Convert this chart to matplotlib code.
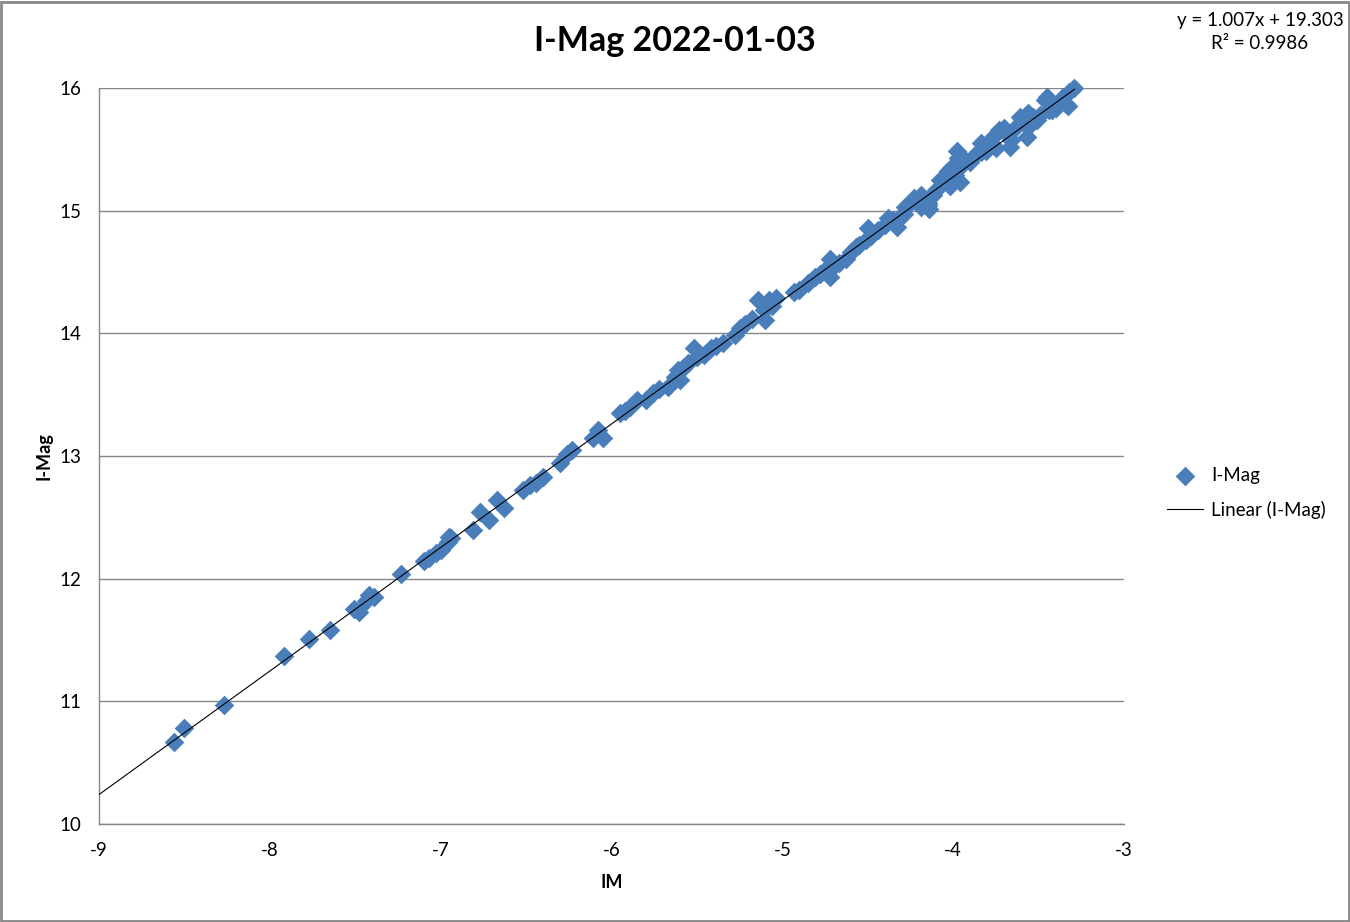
import numpy as np
import matplotlib.pyplot as plt
from matplotlib.patches import Rectangle

# Data (IM vs I-Mag)
im = [
    -8.56, -8.50, -8.27, -7.92, -7.77, -7.65, -7.51, -7.48, -7.44, -7.42,
    -7.39, -7.23, -7.10, -7.07, -7.03, -7.00, -6.96, -6.95, -6.94, -6.81,
    -6.77, -6.72, -6.67, -6.63, -6.52, -6.48, -6.44, -6.40, -6.30, -6.26,
    -6.23, -6.11, -6.08, -6.05, -5.95, -5.92, -5.89, -5.85, -5.80, -5.76,
    -5.72, -5.67, -5.63, -5.61, -5.60, -5.58, -5.55, -5.52, -5.50, -5.46,
    -5.42, -5.39, -5.35, -5.28, -5.25, -5.22, -5.18, -5.14, -5.11, -5.10,
    -5.08, -5.06, -5.04, -4.93, -4.90, -4.85, -4.81, -4.78, -4.75, -4.72,
    -4.72, -4.71, -4.67, -4.63, -4.60, -4.57, -4.55, -4.51, -4.50, -4.48,
    -4.44, -4.40, -4.38, -4.35, -4.33, -4.32, -4.29, -4.28, -4.25, -4.23,
    -4.19, -4.16, -4.15, -4.12, -4.10, -4.08, -4.05, -4.03, -4.01, -3.99,
    -3.97, -3.96, -3.95, -3.93, -3.90, -3.87, -3.84, -3.81, -3.78, -3.77,
    -3.75, -3.73, -3.70, -3.68, -3.66, -3.64, -3.61, -3.59, -3.56, -3.55,
    -3.53, -3.51, -3.49, -3.46, -3.45, -3.44, -3.40, -3.39, -3.36, -3.34,
    -3.32, -3.29, -3.57, -3.67, -3.42, -3.33, -4.19, -4.14, -4.02, -3.98,
    -3.84, -4.15,
]
imag = [
    10.67, 10.78, 10.97, 11.37, 11.51, 11.58, 11.75, 11.73, 11.82, 11.87,
    11.85, 12.04, 12.14, 12.17, 12.21, 12.23, 12.30, 12.34, 12.33, 12.40,
    12.54, 12.48, 12.64, 12.58, 12.72, 12.76, 12.78, 12.83, 12.94, 13.02,
    13.05, 13.15, 13.21, 13.15, 13.35, 13.37, 13.40, 13.46, 13.46, 13.51,
    13.55, 13.56, 13.64, 13.70, 13.62, 13.72, 13.76, 13.88, 13.81, 13.82,
    13.88, 13.90, 13.92, 13.99, 14.04, 14.08, 14.12, 14.27, 14.19, 14.11,
    14.27, 14.22, 14.29, 14.34, 14.35, 14.41, 14.46, 14.48, 14.52, 14.61,
    14.46, 14.53, 14.57, 14.61, 14.66, 14.70, 14.72, 14.76, 14.86, 14.79,
    14.84, 14.88, 14.94, 14.92, 14.87, 14.94, 14.97, 15.03, 15.06, 15.10,
    15.13, 15.09, 15.05, 15.13, 15.17, 15.25, 15.27, 15.32, 15.35, 15.29,
    15.43, 15.23, 15.37, 15.41, 15.40, 15.45, 15.48, 15.49, 15.54, 15.59,
    15.51, 15.66, 15.67, 15.62, 15.58, 15.67, 15.76, 15.72, 15.80, 15.70,
    15.76, 15.74, 15.78, 15.90, 15.93, 15.82, 15.84, 15.87, 15.93, 15.87,
    15.97, 16.00, 15.60, 15.52, 15.82, 15.85, 15.03, 15.01, 15.20, 15.49,
    15.55, 15.06,
]

# trendline shown on the chart
slope = 1.007
intercept = 19.303
r_squared = 0.9986

x_ticks = [-9, -8, -7, -6, -5, -4, -3]
y_ticks = [10, 11, 12, 13, 14, 15, 16]

blue = '#4a7ebb'
grid_grey = '#868686'

plt.rcParams['font.family'] = ['Lato', 'DejaVu Sans']
plt.rcParams['axes.unicode_minus'] = False

fig = plt.figure(figsize=(13.5, 9.22), dpi=100)
ax = fig.add_axes([99 / 1350, 98 / 922, 1025 / 1350, 736 / 922])

# outer chart border
fig.patches.append(Rectangle((0.001, 0.001), 0.998, 0.997, transform=fig.transFigure,
                             fill=False, edgecolor='#878787', linewidth=2))

ax.scatter(im, imag, marker='D', s=100, color=blue, linewidths=0, zorder=3,
           clip_on=False, label='I-Mag')

x_line = np.array([-9, max(im)])
ax.plot(x_line, slope * x_line + intercept, color='black', linewidth=0.8,
        zorder=4, label='Linear (I-Mag)')

ax.set_xlim(-9, -3)
ax.set_ylim(10, 16)
ax.set_xticks(x_ticks)
ax.set_yticks(y_ticks)
ax.tick_params(axis='both', length=0, labelsize=13.5)
ax.tick_params(axis='x', pad=13)
ax.tick_params(axis='y', pad=13)
ax.grid(axis='y', color=grid_grey, linewidth=1)
ax.set_axisbelow(True)
for side in ['top', 'right']:
    ax.spines[side].set_visible(False)
for side in ['left', 'bottom']:
    ax.spines[side].set_color(grid_grey)
    ax.spines[side].set_linewidth(1)

ax.set_xlabel('IM', fontsize=13, fontweight='bold', labelpad=11)
ax.set_ylabel('I-Mag', fontsize=13, fontweight='bold', labelpad=5)

fig.text(0.5, 1 - 41 / 922, 'I-Mag 2022-01-03', ha='center', va='center',
         fontsize=24.5, fontweight='bold')

fig.text(1260 / 1350, 1 - 32 / 922,
         f'y = {slope}x + {intercept}\nR² = {r_squared}',
         ha='center', va='center', fontsize=13.5, linespacing=1.4)

ax.legend(loc='center left', bbox_to_anchor=(1150 / 1350, 1 - 493 / 922),
          bbox_transform=fig.transFigure, frameon=False, fontsize=13.5,
          handlelength=1.9, handletextpad=0.45, labelspacing=0.9)

fig.savefig('out.png', dpi=100)
